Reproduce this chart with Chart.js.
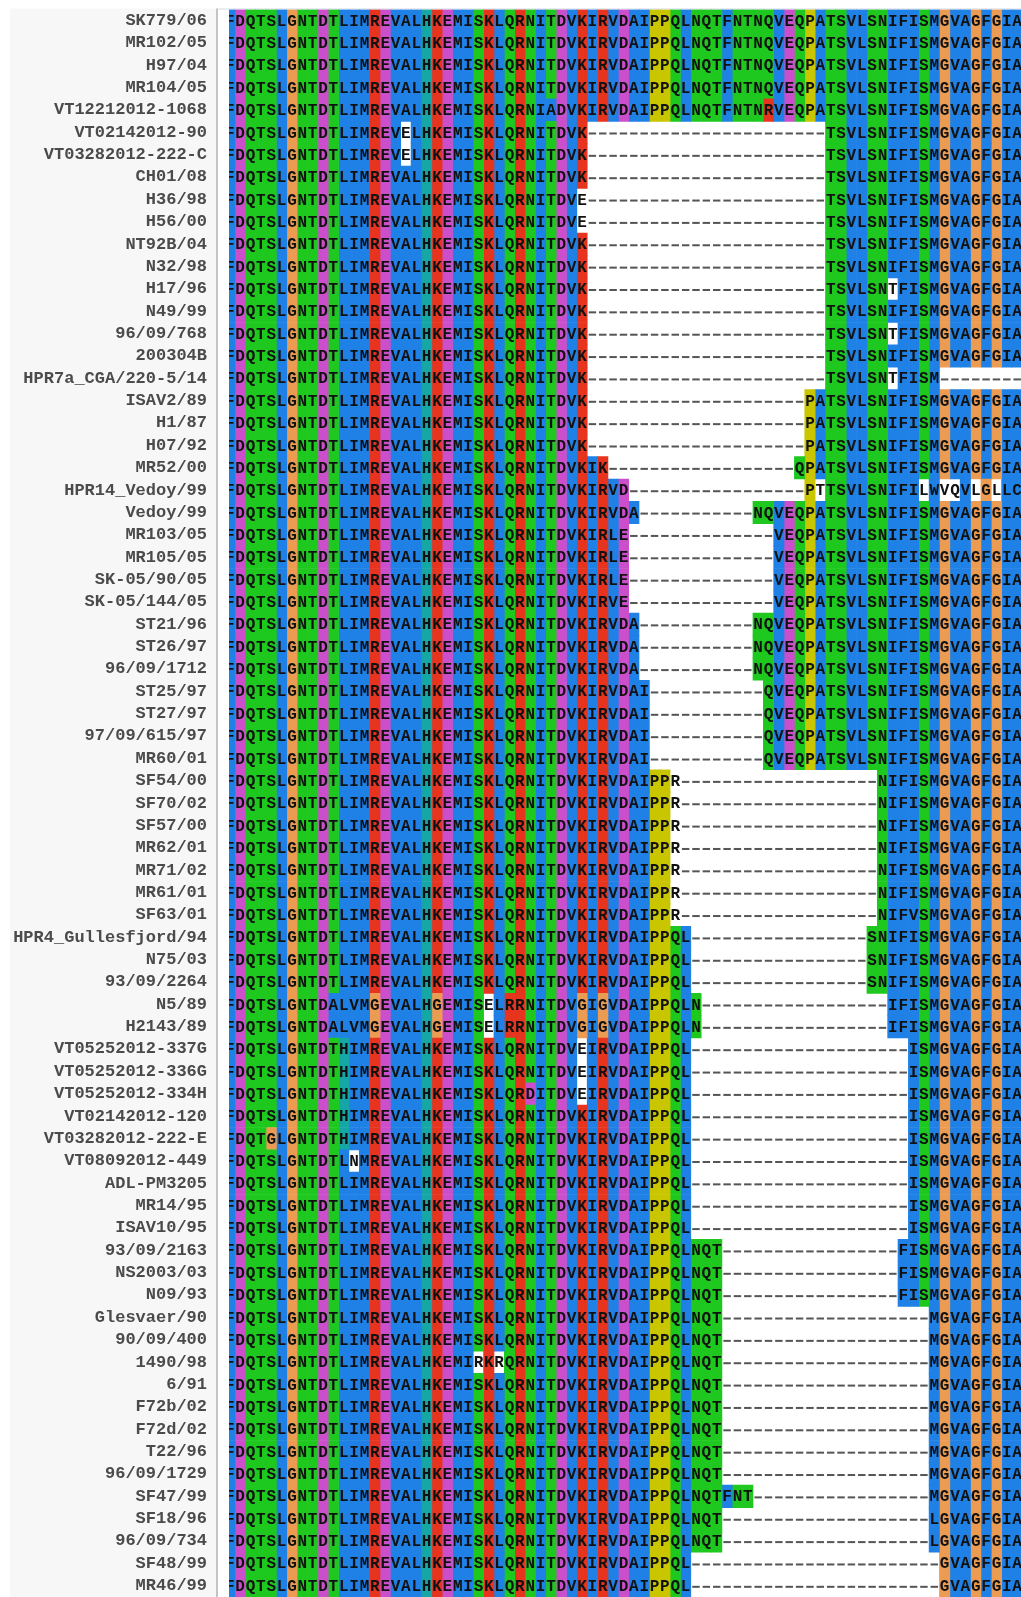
<!DOCTYPE html>
<html>
<head>
<meta charset="utf-8">
<script src="https://cdn.jsdelivr.net/npm/chart.js@4.4.1/dist/chart.umd.min.js"></script>
<style>
  html, body { margin: 0; padding: 0; background: #fff; }
  #wrap { width: 1021px; height: 1597px; }
</style>
</head>
<body>
<div id="wrap"><canvas id="aln" width="1021" height="1597"></canvas></div>
<script>
// Назви ізолятів (рядки вирівнювання)
const names = [
  "SK779/06", "MR102/05", "H97/04", "MR104/05", "VT12212012-1068", "VT02142012-90",
  "VT03282012-222-C", "CH01/08", "H36/98", "H56/00", "NT92B/04", "N32/98", "H17/96",
  "N49/99", "96/09/768", "200304B", "HPR7a_CGA/220-5/14", "ISAV2/89", "H1/87", "H07/92",
  "MR52/00", "HPR14_Vedoy/99", "Vedoy/99", "MR103/05", "MR105/05", "SK-05/90/05",
  "SK-05/144/05", "ST21/96", "ST26/97", "96/09/1712", "ST25/97", "ST27/97", "97/09/615/97",
  "MR60/01", "SF54/00", "SF70/02", "SF57/00", "MR62/01", "MR71/02", "MR61/01", "SF63/01",
  "HPR4_Gullesfjord/94", "N75/03", "93/09/2264", "N5/89", "H2143/89", "VT05252012-337G",
  "VT05252012-336G", "VT05252012-334H", "VT02142012-120", "VT03282012-222-E",
  "VT08092012-449", "ADL-PM3205", "MR14/95", "ISAV10/95", "93/09/2163", "NS2003/03",
  "N09/93", "Glesvaer/90", "90/09/400", "1490/98", "6/91", "F72b/02", "F72d/02", "T22/96",
  "96/09/1729", "SF47/99", "SF18/96", "96/09/734", "SF48/99", "MR46/99"
];

// Послідовності, 77 колонок, "-" = пропуск
const seqs = [
  "FDQTSLGNTDTLIMREVALHKEMISKLQRNITDVKIRVDAIPPQLNQTFNTNQVEQPATSVLSNIFISMGVAGFGIA",
  "FDQTSLGNTDTLIMREVALHKEMISKLQRNITDVKIRVDAIPPQLNQTFNTNQVEQPATSVLSNIFISMGVAGFGIA",
  "FDQTSLGNTDTLIMREVALHKEMISKLQRNITDVKIRVDAIPPQLNQTFNTNQVEQPATSVLSNIFISMGVAGFGIA",
  "FDQTSLGNTDTLIMREVALHKEMISKLQRNITDVKIRVDAIPPQLNQTFNTNQVEQPATSVLSNIFISMGVAGFGIA",
  "FDQTSLGNTDTLIMREVALHKEMISKLQRNIADVKIRVDAIPPQLNQTFNTNRVEQPATSVLSNIFISMGVAGFGIA",
  "FDQTSLGNTDTLIMREVELHKEMISKLQRNITDVK-----------------------TSVLSNIFISMGVAGFGIA",
  "FDQTSLGNTDTLIMREVELHKEMISKLQRNITDVK-----------------------TSVLSNIFISMGVAGFGIA",
  "FDQTSLGNTDTLIMREVALHKEMISKLQRNITDVK-----------------------TSVLSNIFISMGVAGFGIA",
  "FDQTSLGNTDTLIMREVALHKEMISKLQRNITDVE-----------------------TSVLSNIFISMGVAGFGIA",
  "FDQTSLGNTDTLIMREVALHKEMISKLQRNITDVE-----------------------TSVLSNIFISMGVAGFGIA",
  "FDQTSLGNTDTLIMREVALHKEMISKLQRNITDVK-----------------------TSVLSNIFISMGVAGFGIA",
  "FDQTSLGNTDTLIMREVALHKEMISKLQRNITDVK-----------------------TSVLSNIFISMGVAGFGIA",
  "FDQTSLGNTDTLIMREVALHKEMISKLQRNITDVK-----------------------TSVLSNTFISMGVAGFGIA",
  "FDQTSLGNTDTLIMREVALHKEMISKLQRNITDVK-----------------------TSVLSNIFISMGVAGFGIA",
  "FDQTSLGNTDTLIMREVALHKEMISKLQRNITDVK-----------------------TSVLSNTFISMGVAGFGIA",
  "FDQTSLGNTDTLIMREVALHKEMISKLQRNITDVK-----------------------TSVLSNIFISMGVAGFGIA",
  "FDQTSLGNTDTLIMREVALHKEMISKLQRNITDVK-----------------------TSVLSNTFISM--------",
  "FDQTSLGNTDTLIMREVALHKEMISKLQRNITDVK---------------------PATSVLSNIFISMGVAGFGIA",
  "FDQTSLGNTDTLIMREVALHKEMISKLQRNITDVK---------------------PATSVLSNIFISMGVAGFGIA",
  "FDQTSLGNTDTLIMREVALHKEMISKLQRNITDVK---------------------PATSVLSNIFISMGVAGFGIA",
  "FDQTSLGNTDTLIMREVALHKEMISKLQRNITDVKIK------------------QPATSVLSNIFISMGVAGFGIA",
  "FDQTSLGNTDTLIMREVALHKEMISKLQRNITDVKIRVD-----------------PTTSVLSNIFILWVQVLGLLC",
  "FDQTSLGNTDTLIMREVALHKEMISKLQRNITDVKIRVDA-----------NQVEQPATSVLSNIFISMGVAGFGIA",
  "FDQTSLGNTDTLIMREVALHKEMISKLQRNITDVKIRLE--------------VEQPATSVLSNIFISMGVAGFGIA",
  "FDQTSLGNTDTLIMREVALHKEMISKLQRNITDVKIRLE--------------VEQPATSVLSNIFISMGVAGFGIA",
  "FDQTSLGNTDTLIMREVALHKEMISKLQRNITDVKIRLE--------------VEQPATSVLSNIFISMGVAGFGIA",
  "FDQTSLGNTDTLIMREVALHKEMISKLQRNITDVKIRVE--------------VEQPATSVLSNIFISMGVAGFGIA",
  "FDQTSLGNTDTLIMREVALHKEMISKLQRNITDVKIRVDA-----------NQVEQPATSVLSNIFISMGVAGFGIA",
  "FDQTSLGNTDTLIMREVALHKEMISKLQRNITDVKIRVDA-----------NQVEQPATSVLSNIFISMGVAGFGIA",
  "FDQTSLGNTDTLIMREVALHKEMISKLQRNITDVKIRVDA-----------NQVEQPATSVLSNIFISMGVAGFGIA",
  "FDQTSLGNTDTLIMREVALHKEMISKLQRNITDVKIRVDAI-----------QVEQPATSVLSNIFISMGVAGFGIA",
  "FDQTSLGNTDTLIMREVALHKEMISKLQRNITDVKIRVDAI-----------QVEQPATSVLSNIFISMGVAGFGIA",
  "FDQTSLGNTDTLIMREVALHKEMISKLQRNITDVKIRVDAI-----------QVEQPATSVLSNIFISMGVAGFGIA",
  "FDQTSLGNTDTLIMREVALHKEMISKLQRNITDVKIRVDAI-----------QVEQPATSVLSNIFISMGVAGFGIA",
  "FDQTSLGNTDTLIMREVALHKEMISKLQRNITDVKIRVDAIPPR-------------------NIFISMGVAGFGIA",
  "FDQTSLGNTDTLIMREVALHKEMISKLQRNITDVKIRVDAIPPR-------------------NIFISMGVAGFGIA",
  "FDQTSLGNTDTLIMREVALHKEMISKLQRNITDVKIRVDAIPPR-------------------NIFISMGVAGFGIA",
  "FDQTSLGNTDTLIMREVALHKEMISKLQRNITDVKIRVDAIPPR-------------------NIFISMGVAGFGIA",
  "FDQTSLGNTDTLIMREVALHKEMISKLQRNITDVKIRVDAIPPR-------------------NIFISMGVAGFGIA",
  "FDQTSLGNTDTLIMREVALHKEMISKLQRNITDVKIRVDAIPPR-------------------NIFISMGVAGFGIA",
  "FDQTSLGNTDTLIMREVALHKEMISKLQRNITDVKIRVDAIPPR-------------------NIFVSMGVAGFGIA",
  "FDQTSLGNTDTLIMREVALHKEMISKLQRNITDVKIRVDAIPPQL-----------------SNIFISMGVAGFGIA",
  "FDQTSLGNTDTLIMREVALHKEMISKLQRNITDVKIRVDAIPPQL-----------------SNIFISMGVAGFGIA",
  "FDQTSLGNTDTLIMREVALHKEMISKLQRNITDVKIRVDAIPPQL-----------------SNIFISMGVAGFGIA",
  "FDQTSLGNTDALVMGEVALHGEMISELRRNITDVGIGVDAIPPQLN------------------IFISMGVAGFGIA",
  "FDQTSLGNTDALVMGEVALHGEMISELRRNITDVGIGVDAIPPQLN------------------IFISMGVAGFGIA",
  "FDQTSLGNTDTHIMREVALHKEMISKLQRNITDVEIRVDAIPPQL---------------------ISMGVAGFGIA",
  "FDQTSLGNTDTHIMREVALHKEMISKLQRNITDVEIRVDAIPPQL---------------------ISMGVAGFGIA",
  "FDQTSLGNTDTHIMREVALHKEMISKLQRDITDVEIRVDAIPPQL---------------------ISMGVAGFGIA",
  "FDQTSLGNTDTHIMREVALHKEMISKLQRNITDVKIRVDAIPPQL---------------------ISMGVAGFGIA",
  "FDQTGLGNTDTHIMREVALHKEMISKLQRNITDVKIRVDAIPPQL---------------------ISMGVAGFGIA",
  "FDQTSLGNTDTLNMREVALHKEMISKLQRNITDVKIRVDAIPPQL---------------------ISMGVAGFGIA",
  "FDQTSLGNTDTLIMREVALHKEMISKLQRNITDVKIRVDAIPPQL---------------------ISMGVAGFGIA",
  "FDQTSLGNTDTLIMREVALHKEMISKLQRNITDVKIRVDAIPPQL---------------------ISMGVAGFGIA",
  "FDQTSLGNTDTLIMREVALHKEMISKLQRNITDVKIRVDAIPPQL---------------------ISMGVAGFGIA",
  "FDQTSLGNTDTLIMREVALHKEMISKLQRNITDVKIRVDAIPPQLNQT-----------------FISMGVAGFGIA",
  "FDQTSLGNTDTLIMREVALHKEMISKLQRNITDVKIRVDAIPPQLNQT-----------------FISMGVAGFGIA",
  "FDQTSLGNTDTLIMREVALHKEMISKLQRNITDVKIRVDAIPPQLNQT-----------------FISMGVAGFGIA",
  "FDQTSLGNTDTLIMREVALHKEMISKLQRNITDVKIRVDAIPPQLNQT--------------------MGVAGFGIA",
  "FDQTSLGNTDTLIMREVALHKEMISKLQRNITDVKIRVDAIPPQLNQT--------------------MGVAGFGIA",
  "FDQTSLGNTDTLIMREVALHKEMIRKRQRNITDVKIRVDAIPPQLNQT--------------------MGVAGFGIA",
  "FDQTSLGNTDTLIMREVALHKEMISKLQRNITDVKIRVDAIPPQLNQT--------------------MGVAGFGIA",
  "FDQTSLGNTDTLIMREVALHKEMISKLQRNITDVKIRVDAIPPQLNQT--------------------MGVAGFGIA",
  "FDQTSLGNTDTLIMREVALHKEMISKLQRNITDVKIRVDAIPPQLNQT--------------------MGVAGFGIA",
  "FDQTSLGNTDTLIMREVALHKEMISKLQRNITDVKIRVDAIPPQLNQT--------------------MGVAGFGIA",
  "FDQTSLGNTDTLIMREVALHKEMISKLQRNITDVKIRVDAIPPQLNQT--------------------MGVAGFGIA",
  "FDQTSLGNTDTLIMREVALHKEMISKLQRNITDVKIRVDAIPPQLNQTFNT-----------------MGVAGFGIA",
  "FDQTSLGNTDTLIMREVALHKEMISKLQRNITDVKIRVDAIPPQLNQT--------------------LGVAGFGIA",
  "FDQTSLGNTDTLIMREVALHKEMISKLQRNITDVKIRVDAIPPQLNQT--------------------LGVAGFGIA",
  "FDQTSLGNTDTLIMREVALHKEMISKLQRNITDVKIRVDAIPPQL------------------------GVAGFGIA",
  "FDQTSLGNTDTLIMREVALHKEMISKLQRNITDVKIRVDAIPPQL------------------------GVAGFGIA"
];

// Незафарбовані клітинки [рядок, колонка], від 1
const plainCells = [
  [6, 18], [7, 18], [9, 35], [10, 35], [13, 65], [15, 65], [17, 65],
  [22, 58], [22, 68], [22, 70], [22, 71], [22, 73], [22, 75],
  [35, 44], [36, 44], [37, 44], [38, 44], [39, 44], [40, 44], [41, 44],
  [45, 26], [46, 26], [47, 35], [48, 35], [49, 35], [52, 13], [61, 25], [61, 27]
];

// Кольори Clustal за групами залишків
const groups = {
  "AILMFVWC": "#1f81e6",
  "STNQ": "#1ec81e",
  "DE": "#cb4fcb",
  "KR": "#e6341e",
  "G": "#ec9c52",
  "P": "#c9c600",
  "HY": "#17a6a6"
};

const NCOL = seqs[0].length;
const plainSet = new Set(plainCells.map(p => (p[0] - 1) + ":" + (p[1] - 1)));

function residueColor(ch) {
  for (const k in groups) {
    if (k.indexOf(ch) >= 0) return groups[k];
  }
  return null;
}

// один набір даних на колонку, плаваючі смуги [c, c+1]
const datasets = [];
for (let c = 0; c < NCOL; c++) {
  const data = [];
  const colors = [];
  seqs.forEach((s, r) => {
    const ch = s[c];
    const col = residueColor(ch);
    if (ch === "-" || !col || plainSet.has(r + ":" + c)) {
      data.push(null);
      colors.push("#ffffff");
    } else {
      data.push([c, c + 1]);
      colors.push(col);
    }
  });
  datasets.push({
    data: data,
    backgroundColor: colors,
    borderWidth: 0,
    grouped: false,
    barPercentage: 1,
    categoryPercentage: 1
  });
}

// фон панелі назв і роздільник
const panelPlugin = {
  id: "panel",
  beforeDraw(chart) {
    const ctx = chart.ctx;
    const area = chart.chartArea;
    ctx.save();
    ctx.fillStyle = "#ffffff";
    ctx.fillRect(0, 0, chart.width, chart.height);
    ctx.fillStyle = "#f7f7f7";
    ctx.fillRect(10, area.top - 1, 206, chart.height - area.top + 1);
    ctx.fillStyle = "#c4c4c4";
    ctx.fillRect(216, area.top - 1, 2, chart.height - area.top + 1);
    ctx.fillStyle = "#d3dce6";
    ctx.fillRect(218, area.top - 1, chart.width - 218, 1);
    ctx.restore();
  }
};

// літери залишків по центру клітинок, пропуски — риски
const lettersPlugin = {
  id: "letters",
  afterDatasetsDraw(chart) {
    const ctx = chart.ctx;
    const area = chart.chartArea;
    const x = chart.scales.x;
    const y = chart.scales.y;
    const cw = x.getPixelForValue(1) - x.getPixelForValue(0);
    ctx.save();
    ctx.beginPath();
    ctx.rect(area.left, area.top, area.right - area.left, area.bottom - area.top);
    ctx.clip();
    ctx.font = 'bold 16px "Liberation Mono"';
    ctx.textAlign = "center";
    ctx.textBaseline = "middle";
    seqs.forEach((s, r) => {
      const py = y.getPixelForValue(r) + 1;
      for (let c = 0; c < s.length; c++) {
        const ch = s[c];
        const px = x.getPixelForValue(c + 0.5);
        if (ch === "-") {
          ctx.fillStyle = "#555555";
          ctx.fillRect(px - cw * 0.36, py - 1, cw * 0.72, 2);
        } else {
          ctx.fillStyle = "#111111";
          ctx.fillText(ch, px, py);
        }
      }
    });
    ctx.restore();
  }
};

new Chart(document.getElementById("aln"), {
  type: "bar",
  data: { labels: names, datasets: datasets },
  plugins: [panelPlugin, lettersPlugin],
  options: {
    indexAxis: "y",
    responsive: false,
    animation: false,
    layout: { padding: { top: 9.5, left: 0, right: 0, bottom: 0 } },
    plugins: { legend: { display: false }, tooltip: { enabled: false } },
    scales: {
      x: {
        type: "linear",
        min: 0.425,
        max: 76.87,
        display: false
      },
      y: {
        type: "category",
        offset: true,
        grid: { display: false, drawTicks: false },
        border: { display: false },
        afterFit(scale) {
          scale.width = 229;
          scale.paddingTop = 0;
          scale.paddingBottom = 0;
        },
        ticks: {
          autoSkip: false,
          padding: 22,
          color: "#4b4b4b",
          font: { family: "Liberation Mono", size: 17, weight: "bold" }
        }
      }
    }
  }
});

// перевірка довжини рядків
seqs.forEach((s, i) => {
  if (s.length !== NCOL) setTimeout(() => { throw new Error("row " + (i + 1) + " length " + s.length); }, 0);
});
</script>
</body>
</html>
